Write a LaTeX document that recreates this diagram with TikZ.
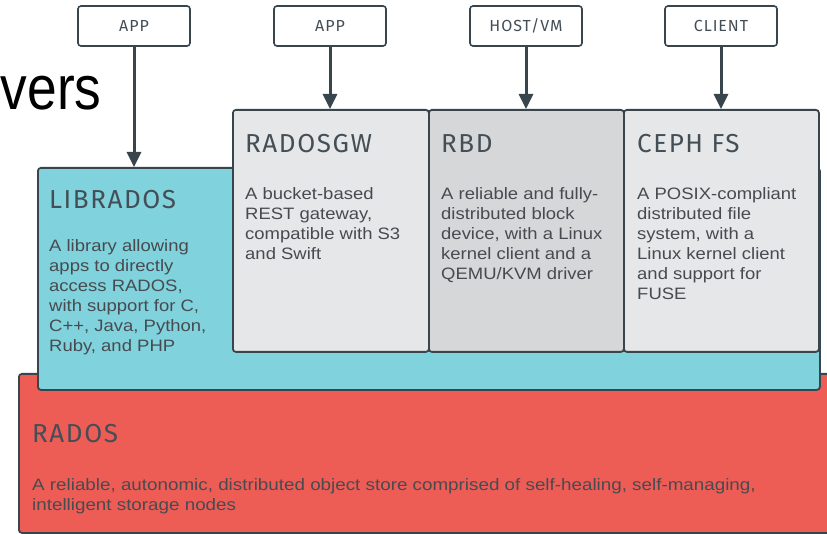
\documentclass[tikz,border=0pt]{standalone}
\usepackage{fontspec}
\setmainfont{Liberation Sans}
\newfontfamily\titlefont[LetterSpace=6]{Fira Sans}
\usepackage{graphicx}
\usetikzlibrary{arrows.meta}
\definecolor{tealbox}{HTML}{80D2DC}
\definecolor{redbox}{HTML}{EE5C56}
\definecolor{graybox}{HTML}{E6E7E8}
\definecolor{darkgraybox}{HTML}{D6D7D8}
\definecolor{edge}{HTML}{38454D}
\definecolor{titlecol}{HTML}{434E57}
\definecolor{bodycol}{HTML}{474B50}
\newcommand\btext[2]{\scalebox{#1}[1]{\begin{tabular}[t]{@{}l@{}}#2\end{tabular}}}
\begin{document}
\begin{tikzpicture}[x=1pt,y=-1pt,
  layerbox/.style={draw=edge, line width=1.8pt, rounded corners=3pt, anchor=north west, inner sep=0pt},
  smallbox/.style={draw=edge, line width=1.6pt, rounded corners=3pt, fill=white, minimum width=112pt, minimum height=40pt, inner sep=0pt, font=\titlefont\fontsize{16}{16}\selectfont, text=titlecol},
  ttl/.style={anchor=base west, inner sep=0pt, font=\titlefont\fontsize{26}{26}\selectfont, text=titlecol},
  body/.style={anchor=base west, inner sep=0pt, font=\fontsize{16.5}{20}\selectfont, text=bodycol},
  arr/.style={draw=edge, line width=3pt, -{Triangle[length=15pt,width=14pt]}}
]
\useasboundingbox (0,0) rectangle (827,534);
\clip (0,0) rectangle (827,534);
\fill[white] (0,0) rectangle (827,534);

% partial title
\node[anchor=base west, inner sep=0pt] (heading) at (0.5,110) {\scalebox{0.86}[1]{\fontsize{62}{62}\selectfont vers}};

% RADOS layer
\node[layerbox, fill=redbox, minimum width=830pt, minimum height=159pt] (rados) at (18,373) {};
% LIBRADOS layer
\node[layerbox, fill=tealbox, minimum width=782pt, minimum height=222pt] (librados) at (37,167) {};
% gateway boxes
\node[layerbox, fill=graybox, minimum width=196pt, minimum height=242pt] (rgw) at (232,109) {};
\node[layerbox, fill=darkgraybox, minimum width=195pt, minimum height=242pt] (rbd) at (428,109) {};
\node[layerbox, fill=graybox, minimum width=195pt, minimum height=242pt] (cephfs) at (623,109) {};

% client boxes
\node[smallbox] (app1) at (134,26) {APP};
\node[smallbox] (app2) at (330,26) {APP};
\node[smallbox] (host) at (526,26) {HOST/VM};
\node[smallbox] (client) at (721,26) {CLIENT};

% arrows
\draw[arr] (app1.south) -- (app1.south |- librados.north);
\draw[arr] (app2.south) -- (app2.south |- rgw.north);
\draw[arr] (host.south) -- (host.south |- rbd.north);
\draw[arr] (client.south) -- (client.south |- cephfs.north);

% titles
\node[ttl] (tlib) at (49,209) {LIBRADOS};
\node[ttl] (trgw) at (245,153) {RADOSGW};
\node[ttl] (trbd) at (441,153) {RBD};
\node[ttl] (tceph) at (637,153) {CEPH FS};
\node[ttl] (trados) at (32,442) {RADOS};

% bodies
\node[body] (blib) at (49,252) {\btext{1.12}{A library allowing\\apps to directly\\access RADOS,\\with support for C,\\C++, Java, Python,\\Ruby, and PHP}};
\node[body] (brgw) at (245,200) {\btext{1.12}{A bucket-based\\REST gateway,\\compatible with S3\\and Swift}};
\node[body] (brbd) at (441,200) {\btext{1.12}{A reliable and fully-\\distributed block\\device, with a Linux\\kernel client and a\\QEMU/KVM driver}};
\node[body] (bceph) at (637,200) {\btext{1.12}{A POSIX-compliant\\distributed file\\system, with a\\Linux kernel client\\and support for\\FUSE}};
\node[body] (brados) at (32,490) {\btext{1.14}{A reliable, autonomic, distributed object store comprised of self-healing, self-managing,\\intelligent storage nodes}};
\end{tikzpicture}
\end{document}
